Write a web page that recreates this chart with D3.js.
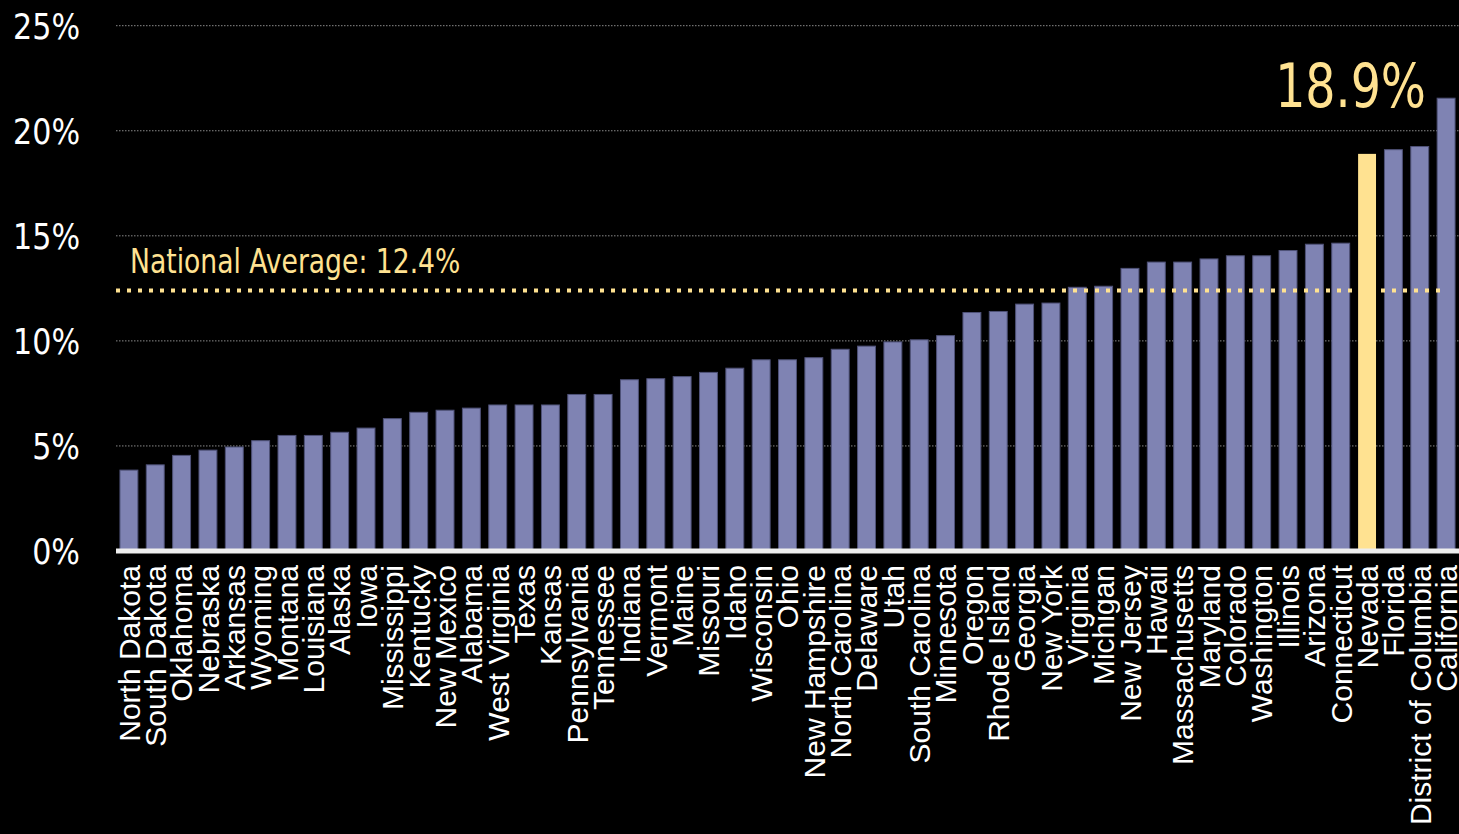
<!DOCTYPE html>
<html>
<head>
<meta charset="utf-8">
<script src="https://cdn.jsdelivr.net/npm/d3@7"></script>
<style>
  html, body { margin: 0; padding: 0; background: #000; }
  svg { display: block; }
</style>
</head>
<body>
<svg width="1459" height="834"></svg>
<script>
var states = ["North Dakota","South Dakota","Oklahoma","Nebraska","Arkansas","Wyoming","Montana","Louisiana","Alaska","Iowa",
  "Mississippi","Kentucky","New Mexico","Alabama","West Virginia","Texas","Kansas","Pennsylvania","Tennessee","Indiana",
  "Vermont","Maine","Missouri","Idaho","Wisconsin","Ohio","New Hampshire","North Carolina","Delaware","Utah",
  "South Carolina","Minnesota","Oregon","Rhode Island","Georgia","New York","Virginia","Michigan","New Jersey","Hawaii",
  "Massachusetts","Maryland","Colorado","Washington","Illinois","Arizona","Connecticut","Nevada","Florida","District of Columbia",
  "California"];
var shares = [3.85,4.1,4.55,4.8,4.95,5.25,5.5,5.5,5.65,5.85,
  6.3,6.6,6.7,6.8,6.95,6.95,6.95,7.45,7.45,8.15,
  8.2,8.3,8.5,8.7,9.1,9.1,9.2,9.6,9.75,9.95,
  10.05,10.25,11.35,11.4,11.75,11.8,12.55,12.6,13.45,13.75,
  13.75,13.9,14.05,14.05,14.3,14.6,14.65,18.9,19.1,19.25,
  21.55];
var yTicks = [0,5,10,15,20,25];
var nationalAvg = 12.4;
var highlight = "Nevada";

// no narrow font installed, so squeeze a condensed one sideways
var condensed = "'DejaVu Sans Condensed','DejaVu Sans',sans-serif";
var svg = d3.select("svg");

var x = d3.scaleBand()
  .domain(states)
  .range([116, 1459])
  .paddingInner(0.32)
  .paddingOuter(0.15);
var y = d3.scaleLinear()
  .domain([0, 25])
  .range([551, 25.7]);

// gridlines
svg.append("g")
  .selectAll("line")
  .data(yTicks.filter(function(d){ return d > 0; }))
  .enter().append("line")
    .attr("x1", 116).attr("x2", 1459)
    .attr("y1", function(d){ return y(d); })
    .attr("y2", function(d){ return y(d); })
    .attr("stroke", "#8a8a8a")
    .attr("stroke-width", 1)
    .attr("stroke-dasharray", "1.5,1.5");

// tick labels
svg.append("g")
  .attr("font-family", condensed)
  .attr("font-size", 36)
  .attr("fill", "#fff")
  .attr("text-anchor", "end")
  .selectAll("text")
  .data(yTicks)
  .enter().append("text")
    .attr("transform", function(d){ return "translate(80," + y(d) + ") scale(0.93,1)"; })
    .attr("dy", "0.36em")
    .text(function(d){ return d + "%"; });

// bars
svg.append("g")
  .selectAll("rect")
  .data(states)
  .enter().append("rect")
    .attr("x", function(d){ return x(d); })
    .attr("width", x.bandwidth())
    .attr("y", function(d, i){ return y(shares[i]); })
    .attr("height", function(d, i){ return y(0) - y(shares[i]); })
    .attr("fill", function(d){ return d == highlight ? "#ffe291" : "#7f83b3"; })
    .attr("stroke", function(d){ return d == highlight ? "none" : "#4f5278"; })
    .attr("stroke-width", 1);

// baseline
svg.append("line")
  .attr("x1", 116).attr("x2", 1459)
  .attr("y1", y(0)).attr("y2", y(0))
  .attr("stroke", "#eeeeee")
  .attr("stroke-width", 5);

// category labels
svg.append("g")
  .attr("font-family", "'Liberation Sans',Arial,sans-serif")
  .attr("font-size", 30)
  .attr("fill", "#fff")
  .attr("text-anchor", "end")
  .selectAll("text")
  .data(states)
  .enter().append("text")
    .attr("transform", function(d){ return "translate(" + (x(d) + x.bandwidth()/2) + ",565) rotate(-90)"; })
    .attr("dy", "0.36em")
    .text(function(d){ return d; });

// national average
svg.append("line")
  .attr("x1", 116).attr("x2", 1446)
  .attr("y1", y(nationalAvg)).attr("y2", y(nationalAvg))
  .attr("stroke", "#ffe291")
  .attr("stroke-width", 4)
  .attr("stroke-dasharray", "4,7");
svg.append("text")
  .attr("transform", "translate(130," + (y(nationalAvg) - 17) + ") scale(0.87,1)")
  .attr("font-family", condensed)
  .attr("font-size", 34)
  .attr("fill", "#ffe291")
  .text("National Average: " + nationalAvg + "%");

// highlight label
svg.append("text")
  .attr("transform", "translate(1426,107) scale(0.88,1)")
  .attr("text-anchor", "end")
  .attr("font-family", condensed)
  .attr("font-size", 60)
  .attr("fill", "#ffe291")
  .text(shares[states.indexOf(highlight)] + "%");
</script>
</body>
</html>
